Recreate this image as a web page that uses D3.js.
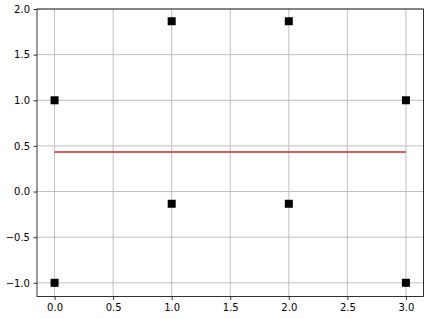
<!DOCTYPE html>
<html>
<head>
<meta charset="utf-8">
<script src="https://cdn.jsdelivr.net/npm/d3@7"></script>
<style>
  body { margin: 0; background: #fff; }
  svg { display: block; font-family: 'DejaVu Sans', sans-serif; }
</style>
</head>
<body>
<svg id="chart"></svg>
<script>
const xs = [0, 1, 2, 3, 0, 1, 2, 3]
const ys = [1, 1.866, 1.866, 1, -1, -0.134, -0.134, -1]
const meanY = 0.433
const xTicks = [0, 0.5, 1, 1.5, 2, 2.5, 3]
const yTicks = [-1, -0.5, 0, 0.5, 1, 1.5, 2]

const width = 431
const height = 319
const margin = { top: 9, right: 7.5, bottom: 22.5, left: 37 }

const svg = d3.select('#chart')
  .attr('width', width)
  .attr('height', height)

const x = d3.scaleLinear()
  .domain([-0.15, 3.15])
  .range([margin.left, width - margin.right])

const y = d3.scaleLinear()
  .domain([-1.15, 2.0])
  .range([height - margin.bottom, margin.top])

const fmt = d => d3.format('.1f')(d).replace('-', '\u2212')

// grid
svg.append('g')
  .selectAll('line')
  .data(xTicks)
  .enter()
  .append('line')
  .attr('x1', d => x(d)).attr('x2', d => x(d))
  .attr('y1', margin.top).attr('y2', height - margin.bottom)
  .attr('stroke', '#b0b0b0').attr('stroke-width', 0.8)

svg.append('g')
  .selectAll('line')
  .data(yTicks)
  .enter()
  .append('line')
  .attr('x1', margin.left).attr('x2', width - margin.right)
  .attr('y1', d => y(d)).attr('y2', d => y(d))
  .attr('stroke', '#b0b0b0').attr('stroke-width', 0.8)

// mean line
svg.append('line')
  .attr('x1', x(0)).attr('x2', x(3))
  .attr('y1', y(meanY)).attr('y2', y(meanY))
  .attr('stroke', '#d62728').attr('stroke-width', 1.5)

// points
const size = 8
svg.append('g')
  .selectAll('rect')
  .data(xs.map((d, i) => [d, ys[i]]))
  .enter()
  .append('rect')
  .attr('x', d => x(d[0]) - size / 2)
  .attr('y', d => y(d[1]) - size / 2)
  .attr('width', size)
  .attr('height', size)
  .attr('fill', '#000')

// axes
const xAxis = svg.append('g')
  .attr('transform', `translate(0,${height - margin.bottom})`)
  .call(d3.axisBottom(x).tickValues(xTicks).tickFormat(fmt).tickSize(3.5).tickPadding(3.5))
const yAxis = svg.append('g')
  .attr('transform', `translate(${margin.left},0)`)
  .call(d3.axisLeft(y).tickValues(yTicks).tickFormat(fmt).tickSize(3.5).tickPadding(3.5))

for (const g of [xAxis, yAxis]) {
  g.select('.domain').remove()
  g.selectAll('.tick line').attr('stroke', '#000').attr('stroke-width', 0.8)
  g.selectAll('.tick text').attr('fill', '#000').style('font-size', '10px').style('font-family', "'DejaVu Sans', sans-serif")
}

// frame
svg.append('rect')
  .attr('x', margin.left)
  .attr('y', margin.top)
  .attr('width', width - margin.left - margin.right)
  .attr('height', height - margin.top - margin.bottom)
  .attr('fill', 'none')
  .attr('stroke', '#000')
  .attr('stroke-width', 0.8)
</script>
</body>
</html>
